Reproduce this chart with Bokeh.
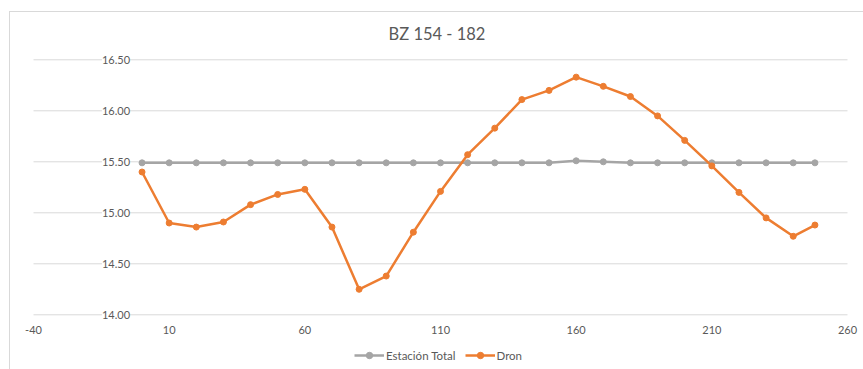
from bokeh.plotting import figure
from bokeh.models import Legend, LegendItem, ColumnDataSource
from bokeh.core.properties import value
from bokeh.embed import file_html
from bokeh.resources import INLINE

# Stations along the section and elevations from each survey method
station = [0, 10, 20, 30, 40, 50, 60, 70, 80, 90, 100, 110, 120, 130,
           140, 150, 160, 170, 180, 190, 200, 210, 220, 230, 240, 248]
estacion_total = [15.49, 15.49, 15.49, 15.49, 15.49, 15.49, 15.49, 15.49,
                  15.49, 15.49, 15.49, 15.49, 15.49, 15.49, 15.49, 15.49,
                  15.51, 15.50, 15.49, 15.49, 15.49, 15.49, 15.49, 15.49,
                  15.49, 15.49]
dron = [15.40, 14.90, 14.86, 14.91, 15.08, 15.18, 15.23, 14.86, 14.25,
        14.38, 14.81, 15.21, 15.57, 15.83, 16.11, 16.20, 16.33, 16.24,
        16.14, 15.95, 15.71, 15.46, 15.20, 14.95, 14.77, 14.88]

x_ticks = [-40, 10, 60, 110, 160, 210, 260]
x_tick_labels = ["-40", "10", "60", "110", "160", "210", "260"]
y_ticks = [14.0, 14.5, 15.0, 15.5, 16.0, 16.5]
y_tick_labels = ["14.00", "14.50", "15.00", "15.50", "16.00", "16.50"]

GREY = "#A5A5A5"
ORANGE = "#ED7D31"
TEXT = "#595959"
GRID = "#d9d9d9"
FONT = "Lato"

x_lo, x_hi = x_ticks[0], x_ticks[-1]
y_lo, y_hi = y_ticks[0], y_ticks[-1]

# the frame is padded beyond the value ranges so the axis texts and the
# legend can sit inside it
p = figure(width=863, height=369, output_backend="svg", toolbar_location=None,
           x_range=(x_lo - 8.477, x_hi + 5.897),
           y_range=(y_lo - 0.5362, y_hi + 0.0716),
           min_border_left=10, min_border_right=0,
           min_border_top=52, min_border_bottom=0,
           title="BZ 154 - 182")

p.styles = {
    "background": "linear-gradient(#d9d9d9,#d9d9d9) 9px 11px / 1px 100% no-repeat, "
                  "linear-gradient(#d9d9d9,#d9d9d9) 9px 11px / 100% 1px no-repeat, white"
}
p.border_fill_alpha = 0
p.background_fill_color = "white"
p.outline_line_color = None
p.xaxis.visible = False
p.yaxis.visible = False
p.grid.visible = False

p.title.align = "center"
p.title.text_font = FONT
p.title.text_font_size = "16.5px"
p.title.text_font_style = "normal"
p.title.text_color = TEXT
p.title.vertical_align = "middle"
p.title.standoff = 16

# horizontal gridlines across the value range of the category axis
p.segment(x0=[x_lo] * len(y_ticks), x1=[x_hi] * len(y_ticks),
          y0=y_ticks, y1=y_ticks, line_color=GRID, line_width=1)

# horizontal-axis labels under the 14.00 line
xl_src = ColumnDataSource(dict(x=x_ticks, y=[y_lo] * len(x_ticks), t=x_tick_labels))
p.text(x="x", y="y", text="t", source=xl_src, y_offset=15,
       text_align="center", text_baseline="middle",
       text_font=value(FONT), text_font_size="11px", text_color=TEXT)

# value-axis labels sit where the vertical axis crosses at station 0
yl_src = ColumnDataSource(dict(x=[0] * len(y_ticks), y=y_ticks, t=y_tick_labels))
p.text(x="x", y="y", text="t", source=yl_src, x_offset=-12,
       text_align="right", text_baseline="middle",
       text_font=value(FONT), text_font_size="11px", text_color=TEXT,
       background_fill_color="white")

l_et = p.line(station, estacion_total, line_color=GREY, line_width=2.5)
s_et = p.scatter(station, estacion_total, size=6, fill_color=GREY, line_color=GREY)
l_dr = p.line(station, dron, line_color=ORANGE, line_width=2.5)
s_dr = p.scatter(station, dron, size=6, fill_color=ORANGE, line_color=ORANGE)

legend = Legend(items=[
    LegendItem(label="Estación Total", renderers=[l_et, s_et]),
    LegendItem(label="Dron", renderers=[l_dr, s_dr]),
], orientation="horizontal", location=(344, 6))
legend.border_line_color = None
legend.background_fill_alpha = 0
legend.label_text_font = FONT
legend.label_text_font_size = "11.5px"
legend.label_text_color = TEXT
legend.glyph_width = 30
legend.glyph_height = 16
legend.label_height = 16
legend.label_standoff = 2
legend.spacing = 9
legend.padding = 6
legend.margin = 0
p.add_layout(legend)

open("out.html", "w").write(file_html(p, INLINE))
